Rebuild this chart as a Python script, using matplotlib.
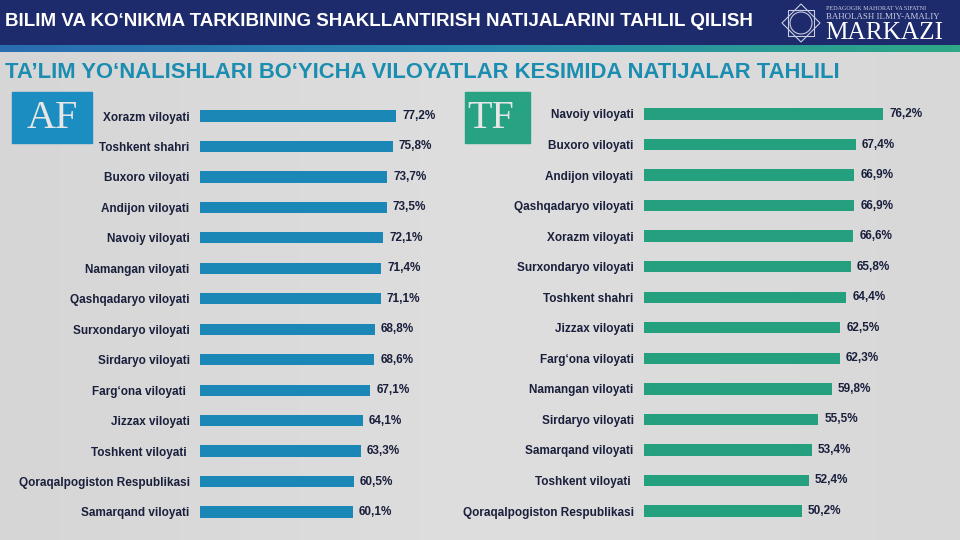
import matplotlib
matplotlib.use("Agg")
import matplotlib.pyplot as plt
import numpy as np
from matplotlib.patches import Rectangle, Polygon, Circle

# ---------------- data ----------------
af_regions = ["Xorazm viloyati", "Toshkent shahri", "Buxoro viloyati", "Andijon viloyati",
              "Navoiy viloyati", "Namangan viloyati", "Qashqadaryo viloyati",
              "Surxondaryo viloyati", "Sirdaryo viloyati", "Farg‘ona viloyati ",
              "Jizzax viloyati", "Toshkent viloyati ", "Qoraqalpogiston Respublikasi",
              "Samarqand viloyati"]
af_values = [77.2, 75.8, 73.7, 73.5, 72.1, 71.4, 71.1, 68.8, 68.6, 67.1, 64.1, 63.3, 60.5, 60.1]

tf_regions = ["Navoiy viloyati", "Buxoro viloyati", "Andijon viloyati", "Qashqadaryo viloyati",
              "Xorazm viloyati", "Surxondaryo viloyati", "Toshkent shahri", "Jizzax viloyati",
              "Farg‘ona viloyati", "Namangan viloyati", "Sirdaryo viloyati",
              "Samarqand viloyati", "Toshkent viloyati ", "Qoraqalpogiston Respublikasi"]
tf_values = [76.2, 67.4, 66.9, 66.9, 66.6, 65.8, 64.4, 62.5, 62.3, 59.8, 55.5, 53.4, 52.4, 50.2]

title = "BILIM VA KO‘NIKMA TARKIBINING SHAKLLANTIRISH NATIJALARINI TAHLIL QILISH"
subtitle = "TA’LIM YO‘NALISHLARI BO‘YICHA VILOYATLAR KESIMIDA NATIJALAR TAHLILI"

# ---------------- style ----------------
W, H = 960, 540
BG = "#dadada"
NAVY = "#1d2a6c"
AF_BAR = "#1b87b6"
TF_BAR = "#25a07e"
AF_BOX = "#1b8dc0"
TF_BOX = "#27a384"
LABEL = "#1a1f3c"
SUB = "#1a8db0"
SANS = ["Liberation Sans", "DejaVu Sans"]
SERIF = ["Liberation Serif", "DejaVu Serif"]

fig = plt.figure(figsize=(W / 100, H / 100), dpi=100)
fig.patch.set_facecolor(BG)

# background / decoration axes in pixel coordinates
bg = fig.add_axes([0, 0, 1, 1])
bg.set_xlim(0, W)
bg.set_ylim(H, 0)
bg.axis("off")

grad = np.linspace(0, 1, 256).reshape(1, -1)
bg.imshow(np.vstack([grad, grad]), extent=[0, W, H, 52], aspect="auto",
          cmap=matplotlib.colors.LinearSegmentedColormap.from_list("g", ["#d6d6d6", "#dedede", "#d8d8d8"]),
          zorder=0)

# header band
bg.add_patch(Rectangle((0, 0), W, 45, color=NAVY, zorder=1))
stripe = np.linspace(0, 1, 256).reshape(1, -1)
bg.imshow(stripe, extent=[0, W, 52, 45], aspect="auto",
          cmap=matplotlib.colors.LinearSegmentedColormap.from_list("s", ["#2a6db0", "#2688b0", "#2ea886"]),
          zorder=2)
bg.text(5, 22, title, color="white", fontsize=13.5, fontweight="bold", family=SANS,
        va="center", ha="left", zorder=3)
bg.text(5, 72, subtitle, color=SUB, fontsize=15.8, fontweight="bold", family=SANS,
        va="center", ha="left", zorder=3)

# logo
cx, cy = 801, 23
for ang in (0, 45):
    t = np.deg2rad(np.array([45, 135, 225, 315]) + ang)
    bg.add_patch(Polygon(np.c_[cx + 19 * np.cos(t), cy + 19 * np.sin(t)], closed=True,
                         fill=False, ec="#c8cde0", lw=0.8, zorder=3))
bg.add_patch(Circle((cx, cy), 11, fill=False, ec="#c8cde0", lw=0.8, zorder=3))
bg.text(826, 8, "PEDAGOGIK MAHORAT VA SIFATNI", color="#c8cde0", fontsize=4.4,
        family=SERIF, va="center", ha="left", zorder=3)
bg.text(826, 17, "BAHOLASH ILMIY-AMALIY", color="#c8cde0", fontsize=6.4,
        family=SERIF, va="center", ha="left", zorder=3)
bg.text(825, 33, "MARKAZI", color="white", fontsize=18.2, family=SERIF,
        va="center", ha="left", zorder=3)

# AF / TF boxes
bg.add_patch(Rectangle((12, 92), 80, 51, color=AF_BOX, zorder=3))
bg.text(52, 119, "AF", color="#e6e6e6", fontsize=29, family=SERIF, va="center",
        ha="center", zorder=4)
bg.add_patch(Rectangle((465, 92), 65, 51, color=TF_BOX, zorder=3))
bg.text(491, 119, "TF", color="#e6e6e6", fontsize=29, family=SERIF, va="center",
        ha="center", zorder=4)


def fmt(v):
    return f"{v:.1f}%".replace(".", ",")


def bar_panel(x0, x1, top, bottom, scale, names, vals, color):
    ax = fig.add_axes([x0 / W, 1 - bottom / H, (x1 - x0) / W, (bottom - top) / H])
    ax.patch.set_alpha(0)
    n = len(names)
    y = np.arange(n)
    bars = ax.barh(y, vals, height=0.37, color=color, zorder=2)
    ax.set_ylim(n - 0.5, -0.5)
    ax.set_xlim(0, (x1 - x0) / scale)
    ax.set_yticks(y)
    ax.set_yticklabels(names, fontsize=8.5, fontweight="bold", color=LABEL, family=SANS)
    ax.tick_params(axis="y", length=0, pad=7.5)
    ax.set_xticks([])
    for s in ax.spines.values():
        s.set_visible(False)
    ax.bar_label(bars, labels=[fmt(v) for v in vals], padding=4.5, fontsize=8.5,
                 fontweight="bold", color=LABEL, family=SANS)
    return ax


bar_panel(200, 450, 100.8, 527.2, 2.54, af_regions, af_values, AF_BAR)
bar_panel(644, 950, 98.7, 526.3, 3.14, tf_regions, tf_values, TF_BAR)

fig.savefig("out.png", dpi=100, facecolor=fig.get_facecolor())
